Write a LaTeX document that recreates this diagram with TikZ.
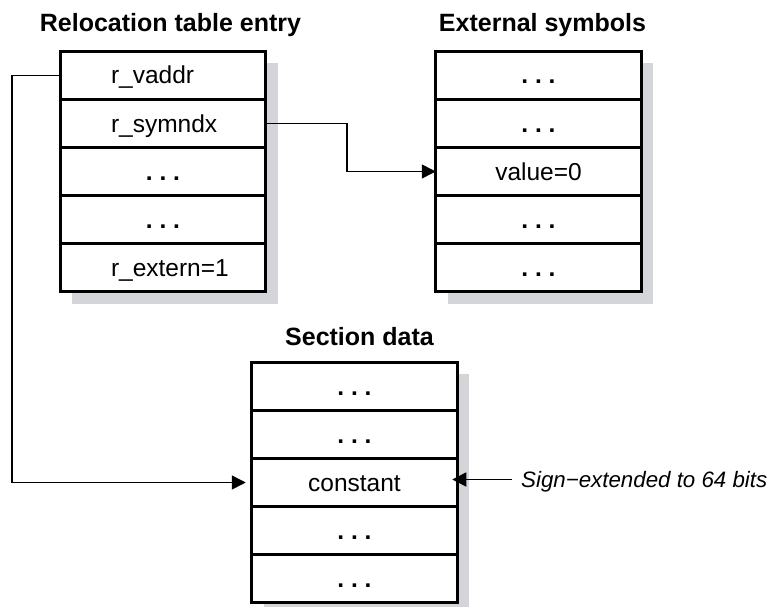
\documentclass[tikz,border=0pt]{standalone}
\usepackage{fontspec}
\setmainfont{Liberation Sans}
\usetikzlibrary{arrows.meta,backgrounds,calc,positioning}
\definecolor{shadowgray}{HTML}{D4D5D8}
\newcommand{\rowdots}{\textbf{.\ .\ .}}
\tikzset{
  cell/.style={draw=black, line width=1.5pt, fill=white, minimum width=204pt, minimum height=46.6pt,
    inner sep=0pt, text height=17.4pt, text depth=0pt, font=\fontsize{24.5}{26}\selectfont},
  lcell/.style={cell, text width=204pt, align=left},
  frame/.style={draw=black, line width=3pt},
  shade/.style={fill=shadowgray},
  ttl/.style={anchor=base, inner sep=0pt, font=\fontsize{25}{27}\selectfont\bfseries},
  conn/.style={draw=black, line width=1.5pt, -{Triangle[length=14pt,width=14pt]}}
}
\begin{document}
\begin{tikzpicture}[x=1pt,y=-1pt]
\useasboundingbox (0,0) rectangle (769,607);
% Relocation table entry
\node[lcell] (L1) at (163,75.3) {\hspace*{50pt}r\_vaddr};
\node[lcell, below=0pt of L1] (L2) {\hspace*{50pt}r\_symndx};
\node[cell, below=0pt of L2] (L3) {\rowdots};
\node[cell, below=0pt of L3] (L4) {\rowdots};
\node[lcell, below=0pt of L4] (L5) {\hspace*{50pt}r\_extern=1};
\draw[frame] (L1.north west) rectangle (L5.south east);
% External symbols
\node[cell] (E1) at (538.5,75.3) {\rowdots};
\node[cell, below=0pt of E1] (E2) {\rowdots};
\node[cell, below=0pt of E2] (E3) {value=0};
\node[cell, below=0pt of E3] (E4) {\rowdots};
\node[cell, below=0pt of E4] (E5) {\rowdots};
\draw[frame] (E1.north west) rectangle (E5.south east);
% Section data
\node[cell] (S1) at (354.5,386.3) {\rowdots};
\node[cell, below=0pt of S1] (S2) {\rowdots};
\node[cell, below=0pt of S2] (S3) {constant};
\node[cell, below=0pt of S3] (S4) {\rowdots};
\node[cell, below=0pt of S4] (S5) {\rowdots};
\draw[frame] (S1.north west) rectangle (S5.south east);
% shadows
\begin{scope}[on background layer]
\fill[shade] ($(L1.north west)+(12,12)$) rectangle ($(L5.south east)+(12,12)$);
\fill[shade] ($(E1.north west)+(12,12)$) rectangle ($(E5.south east)+(12,12)$);
\fill[shade] ($(S1.north west)+(12,12)$) rectangle ($(S5.south east)+(12,12)$);
\end{scope}
% titles
\node[ttl] (tL) at (170.5,32) {Relocation table entry};
\node[ttl] (tE) at (542.5,32) {External symbols};
\node[ttl] (tS) at (359.5,345) {Section data};
% connectors
\coordinate (mx) at (347,0);
\coordinate (lx) at (12,0);
\draw[conn] (L2.east) -- (L2.east -| mx) -- (E3.west -| mx) -- (E3.west);
\draw[conn, shorten >=6pt] (L1.west) -- (L1.west -| lx) -- (S3.west -| lx) -- (S3.west);
\node[anchor=west, inner sep=0pt, text height=15.6pt, text depth=0pt,
  font=\fontsize{22.3}{24}\selectfont\itshape] (sg) at (521,479.5) {Sign\textminus extended to 64 bits};
\coordinate (sgs) at (512,479.5);
\draw[conn, shorten >=-5pt] (sgs) -- (sgs -| S3.east);
\end{tikzpicture}
\end{document}
